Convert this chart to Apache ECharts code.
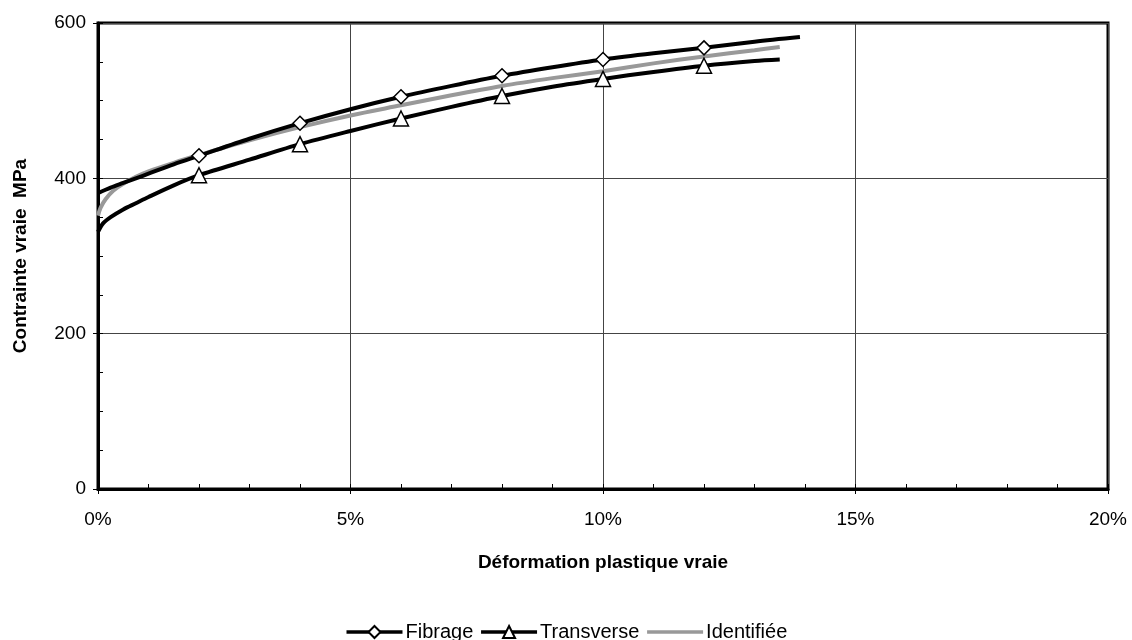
<!DOCTYPE html>
<html>
<head>
<meta charset="utf-8">
<script src="https://cdn.jsdelivr.net/npm/echarts@6/dist/echarts.min.js"></script>
<style>html,body{margin:0;padding:0;background:#fff}#c{width:1132px;height:640px}</style>
</head>
<body>
<div id="c"></div>
<script>
// ---- data (x in %, y in MPa) ----
const fibrageX = [0, 0.25, 0.5, 0.75, 1, 1.5, 2, 3, 4, 5, 6, 7, 8, 9, 10, 11, 12, 13, 13.9];
const fibrageY = [381, 388, 394, 400, 406, 418, 429, 451, 471, 489, 505, 519, 532, 543, 553, 561, 568, 576, 582];
const transX = [0, 0.1, 0.25, 0.5, 0.75, 1, 1.5, 2, 3, 4, 5, 6, 7, 8, 9, 10, 11, 12, 13, 13.5];
const transY = [331, 342, 350, 360, 368, 376, 391, 404, 424, 444, 461, 477, 492, 506, 518, 528, 537, 545, 551, 553];
const identX = [0, 0.05, 0.15, 0.3, 0.5, 0.75, 1, 1.5, 2, 3, 4, 5, 6, 7, 8, 9, 10, 11, 12, 13, 13.5];
const identY = [352, 362, 373, 384, 393, 402, 409, 420, 430, 449, 466, 481, 494, 507, 519, 529, 538, 548, 557, 565, 569];
const markerX = [2, 4, 6, 8, 10, 12];
const seriesNames = ['Fibrage', 'Transverse', 'Identifiée'];
const xTicks = [0, 5, 10, 15, 20];
const yTicks = [0, 200, 400, 600];

function build(xs, ys, marked) {
  return xs.map((x, i) => marked && markerX.includes(x)
    ? { value: [x, ys[i]] }
    : { value: [x, ys[i]], symbol: 'none' });
}

const chart = echarts.init(document.getElementById('c'));
const font = 'Liberation Sans, Arial, sans-serif';
chart.setOption({
  animation: false,
  textStyle: { fontFamily: font },
  grid: { left: 98, right: 24, top: 23, bottom: 151, show: true, borderColor: '#000', borderWidth: 3 },
  legend: {
    top: 617, left: 'center',
    itemWidth: 56, itemHeight: 15, itemGap: 6,
    lineStyle: { width: 3.5 },
    textStyle: { fontSize: 20, color: '#000', fontFamily: font, padding: [0, 0, 0, -2] },
    data: [
      { name: seriesNames[0] },
      { name: seriesNames[1] },
      { name: seriesNames[2], itemStyle: { opacity: 0 } }
    ]
  },
  xAxis: [{
    type: 'value', min: xTicks[0], max: xTicks[xTicks.length - 1], interval: 5,
    name: 'Déformation plastique vraie', nameLocation: 'middle', nameGap: 64,
    nameTextStyle: { fontSize: 19, fontWeight: 'bold', color: '#000', fontFamily: font },
    axisLine: { show: true, lineStyle: { color: '#000', width: 3 } },
    axisTick: { show: true, inside: false, length: 5, lineStyle: { color: '#000' } },
    axisLabel: { fontSize: 19, color: '#000', margin: 21, formatter: v => v + '%', fontFamily: font },
    splitLine: { show: true, lineStyle: { color: '#444', width: 1 } }
  }, {
    type: 'value', min: 0, max: 20, interval: 1, position: 'bottom',
    axisLine: { show: false }, axisLabel: { show: false }, splitLine: { show: false },
    axisTick: { show: true, inside: true, length: 5, lineStyle: { color: '#000' } }
  }],
  yAxis: [{
    type: 'value', min: yTicks[0], max: yTicks[yTicks.length - 1], interval: 200,
    name: 'Contrainte vraie  MPa', nameLocation: 'middle', nameGap: 68,
    nameTextStyle: { fontSize: 19, fontWeight: 'bold', color: '#000', fontFamily: font },
    axisLine: { show: true, lineStyle: { color: '#000', width: 3 } },
    axisTick: { show: true, inside: false, length: 5, lineStyle: { color: '#000' } },
    axisLabel: { fontSize: 19, color: '#000', margin: 12, fontFamily: font },
    splitLine: { show: true, lineStyle: { color: '#444', width: 1 } }
  }, {
    type: 'value', min: 0, max: 600, interval: 50, position: 'left',
    axisLine: { show: false }, axisLabel: { show: false }, splitLine: { show: false },
    axisTick: { show: true, inside: true, length: 5, lineStyle: { color: '#000' } }
  }],
  series: [{
    name: seriesNames[0], type: 'line', xAxisIndex: 0, yAxisIndex: 0,
    data: build(fibrageX, fibrageY, true),
    symbol: 'diamond', symbolSize: 14, showAllSymbol: true, smooth: 0.3,
    lineStyle: { color: '#000', width: 4 },
    itemStyle: { color: '#fff', borderColor: '#000', borderWidth: 1.5 },
    z: 3
  }, {
    name: seriesNames[1], type: 'line', xAxisIndex: 0, yAxisIndex: 0,
    data: build(transX, transY, true),
    symbol: 'triangle', symbolSize: 15, showAllSymbol: true, smooth: 0.3,
    lineStyle: { color: '#000', width: 4 },
    itemStyle: { color: '#fff', borderColor: '#000', borderWidth: 1.5 },
    z: 3
  }, {
    name: seriesNames[2], type: 'line', xAxisIndex: 0, yAxisIndex: 0,
    data: build(identX, identY, false),
    symbol: 'none', smooth: 0.3,
    lineStyle: { color: '#999', width: 4 },
    itemStyle: { color: '#999' },
    z: 2
  }]
});
</script>
</body>
</html>
